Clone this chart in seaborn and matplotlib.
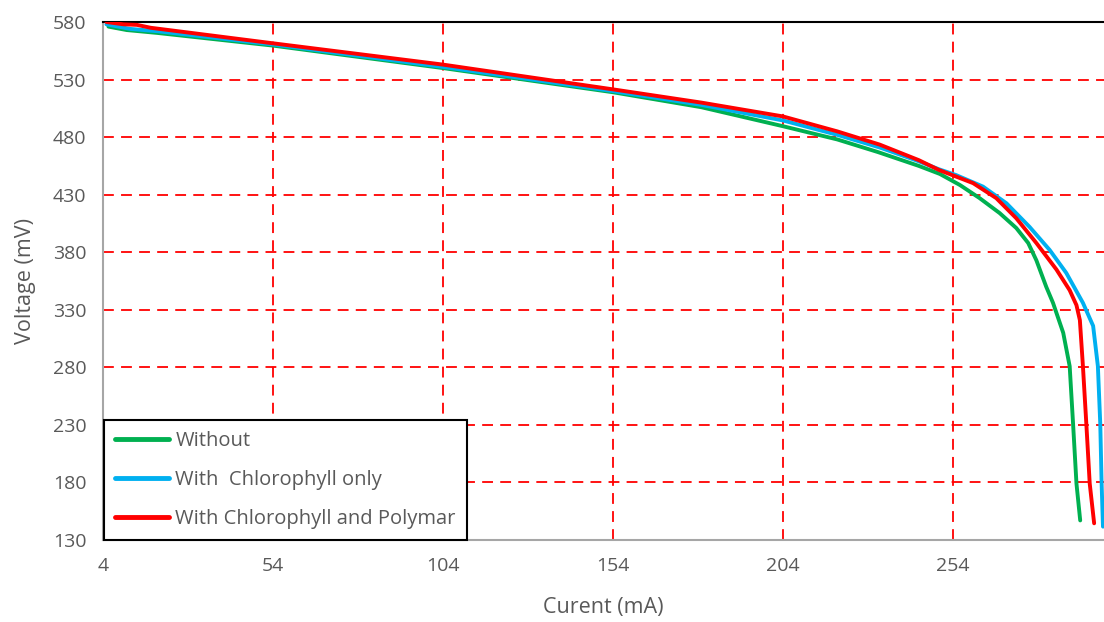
import numpy as np
import pandas as pd
import matplotlib
matplotlib.use('Agg')
import matplotlib.pyplot as plt
import seaborn as sns

# ---------- dados ----------
x_without = [5.6, 11, 20, 54, 104, 154, 180, 204, 220, 232, 244, 250.2, 256.1, 261.9,
             267.8, 272.7, 276.2, 278.6, 281.5, 283.5, 286.5, 288.4, 289.4, 290.4, 291.5]
y_without = [576, 573, 570.5, 559.5, 540, 519, 506, 489.5, 478, 467, 455, 448, 438.4, 427,
             414, 401, 388, 373, 350, 336, 310, 281, 231, 179, 147]

x_chloro = [5, 12, 20, 54, 104, 154, 180, 204, 220, 232.5, 244, 250, 255, 262.9, 269.8,
            276.6, 282.5, 287.4, 292.3, 295.3, 296.7, 297.4, 297.8, 298.2]
y_chloro = [578, 574, 572, 560.5, 541, 520, 508, 494.5, 482, 471, 459, 452, 447, 437, 422.5,
            402, 382, 362, 336, 316, 281, 231, 179, 141.6]

x_polymar = [5, 10, 14, 18, 54, 104, 154, 180, 204, 220, 232.5, 244, 250, 260, 266.8,
             272.7, 278.6, 284.5, 288.4, 290.4, 291.4, 292.3, 293.3, 294.3, 295.6]
y_polymar = [580, 578, 577.5, 575, 561.5, 543, 521.5, 510, 498, 485, 473.5, 460, 451.4, 440, 427,
             409.5, 388, 365, 347, 334, 321, 281, 231, 179, 144.5]

series_names = ['Without', 'With  Chlorophyll only', 'With Chlorophyll and Polymar']
series_colors = ['#00B050', '#00B0F0', '#FF0000']
x_ticks = [4, 54, 104, 154, 204, 254]
y_ticks = [130, 180, 230, 280, 330, 380, 430, 480, 530, 580]

df = pd.concat([
    pd.DataFrame({'x': x_without, 'y': y_without, 'serie': series_names[0]}),
    pd.DataFrame({'x': x_chloro, 'y': y_chloro, 'serie': series_names[1]}),
    pd.DataFrame({'x': x_polymar, 'y': y_polymar, 'serie': series_names[2]}),
], ignore_index=True)

sns.set_style('white')
plt.rcParams['font.family'] = ['Open Sans', 'DejaVu Sans']

fig = plt.figure(figsize=(11.04, 6.22), dpi=100)
ax = fig.add_axes([103 / 1104, 82 / 622, 1001 / 1104, 518 / 622])

# grade vermelha tracejada
for xv in x_ticks[1:]:
    ax.axvline(xv, color='#FF0000', linestyle=(0, (6, 4)), linewidth=1.3, zorder=1)
for yv in y_ticks[1:-1]:
    ax.axhline(yv, color='#FF0000', linestyle=(0, (6, 4)), linewidth=1.3, zorder=1)

sns.lineplot(data=df, x='x', y='y', hue='serie', hue_order=series_names,
             palette=series_colors, sort=False, estimator=None, linewidth=2.8,
             ax=ax, zorder=3)

ax.set_xlim(4, 298.5)
ax.set_ylim(130, 580)
ax.set_xticks(x_ticks)
ax.set_yticks(y_ticks)
ax.tick_params(length=0, labelsize=14, colors='#595959', pad=12)
ax.set_xlabel('Curent (mA)', fontsize=15.5, color='#595959', labelpad=16)
ax.set_ylabel('Voltage (mV)', fontsize=15.5, color='#595959', labelpad=12)

for s in ['left', 'bottom']:
    ax.spines[s].set_color('#A6A6A6')
    ax.spines[s].set_linewidth(1.5)
ax.spines['top'].set_color('black')
ax.spines['top'].set_linewidth(1.5)
ax.spines['right'].set_visible(False)

leg = ax.legend(loc='lower left', bbox_to_anchor=(0.001, 0.0), borderaxespad=0,
                fancybox=False, edgecolor='black', framealpha=1, fontsize=14.5,
                handlelength=2.7, handletextpad=0.3, labelspacing=0.95,
                borderpad=0.55)
leg.get_frame().set_linewidth(1.5)
for t in leg.get_texts():
    t.set_color('#595959')
for h in leg.get_lines():
    h.set_linewidth(3.5)

plt.savefig('out.png', dpi=100)
plt.close()
